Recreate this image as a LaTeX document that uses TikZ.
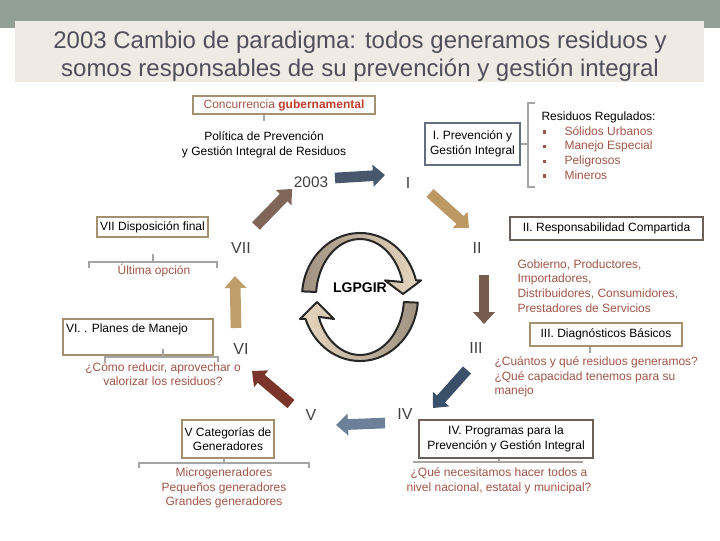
\documentclass[tikz,border=0pt]{standalone}
\usepackage{fontspec}
\setmainfont{Liberation Sans}
\usetikzlibrary{arrows.meta}

\definecolor{barra}{RGB}{146,160,150}
\definecolor{crema}{RGB}{239,234,228}
\definecolor{titulo}{RGB}{80,80,92}
\definecolor{rb}{RGB}{160,85,72}
\definecolor{rbb}{RGB}{190,60,45}
\definecolor{cajatan}{RGB}{165,145,112}
\definecolor{cajaosc}{RGB}{108,96,90}
\definecolor{cajagris}{RGB}{100,110,122}
\definecolor{llavegris}{RGB}{165,165,165}
\definecolor{ringdark}{RGB}{158,145,128}
\definecolor{ringlight}{RGB}{232,216,192}
\definecolor{fl1}{RGB}{128,102,88}
\definecolor{fl2}{RGB}{72,88,108}
\definecolor{fl3}{RGB}{188,152,98}
\definecolor{fl4}{RGB}{118,92,78}
\definecolor{fl5}{RGB}{58,80,106}
\definecolor{fl6}{RGB}{108,128,154}
\definecolor{fl7}{RGB}{122,52,42}
\definecolor{fl8}{RGB}{192,158,108}

\newcommand\txt{\fontsize{9}{11}\selectfont}
\newcommand\blt{{\color{rb}\rule[0.25ex]{2.4pt}{2.4pt}}}

\tikzset{every picture/.style={line width=0.75pt},
  caja/.style={draw, line width=2.2pt, inner sep=0pt, align=center, font=\txt},
  texto/.style={inner sep=0pt, align=center, font=\txt},
  rojo/.style={texto, text=rb},
  romano/.style={inner sep=0pt, font=\fontsize{12}{12}\selectfont, text=black!75},
  llave/.style={draw=llavegris, line width=0.8pt},
  flecha/.style={line width=8pt, -{Triangle[length=9pt,width=16pt]}},
  anillo/.style={draw=black!85, line width=1.5pt, line join=round}}

\begin{document}
\begin{tikzpicture}[x=0.75pt,y=0.75pt,yscale=-1,xscale=1]
\useasboundingbox (0,0) rectangle (720,540);

%Shape: Rectangle
\fill[barra] (0,0) rectangle (720,28);
%Shape: Rectangle
\fill[crema] (15,21) rectangle (704,82);

% Text Node
\node[inner sep=0pt, align=center, text=titulo, font=\fontsize{18}{21}\selectfont] (tit) at (360,56) {2003 Cambio de paradigma: todos generamos residuos y\\somos responsables de su prevención y gestión integral};

% Boxes
\node[caja, draw=cajatan, minimum width=136.5pt, minimum height=13.5pt] (conc) at (284,105) {{\color{rb}Concurrencia} {\color{rbb}\textbf{gubernamental}}};
\node[caja, draw=cajagris, minimum width=71.25pt, minimum height=31.5pt] (prev) at (472.5,144) {I. Prevención y\\Gestión Integral};
\node[caja, draw=cajaosc, minimum width=144.75pt, minimum height=17.25pt] (resp) at (606.5,228.5) {II. Responsabilidad Compartida};
\node[caja, draw=cajatan, minimum width=114pt, minimum height=17.25pt] (diag) at (606,334.5) {III. Diagnósticos Básicos};
\node[caja, draw=cajaosc, minimum width=130.5pt, minimum height=28.5pt] (prog) at (506,439) {IV. Programas para la\\Prevención y Gestión Integral};
\node[caja, draw=cajatan, minimum width=69pt, minimum height=28.5pt] (cat) at (228,439) {V Categorías de\\Generadores};
\node[caja, draw=cajatan, minimum width=112.5pt, minimum height=27pt] (planes) at (138,337) {};
\node[texto, anchor=north west] (planestxt) at ([shift={(3pt,4.5pt)}]planes.north west) {VI. . Planes de Manejo};
\node[caja, draw=cajatan, minimum width=83.25pt, minimum height=15pt] (disp) at (152.5,227) {VII Disposición final};

% Text Node
\node[texto] (pol) at (264,145) {Política de Prevención\\y Gestión Integral de Residuos};
% Text Node
\node[texto, anchor=west, align=left] (resid) at (541,145.5) {Residuos Regulados:\\
\makebox[17.25pt][l]{\hspace{1pt}\blt}{\color{rb}Sólidos Urbanos}\\
\makebox[17.25pt][l]{\hspace{1pt}\blt}{\color{rb}Manejo Especial}\\
\makebox[17.25pt][l]{\hspace{1pt}\blt}{\color{rb}Peligrosos}\\
\makebox[17.25pt][l]{\hspace{1pt}\blt}{\color{rb}Mineros}};
% Text Node
\node[rojo, anchor=west, align=left] (gob) at (517,286) {Gobierno, Productores,\\Importadores,\\Distribuidores, Consumidores,\\Prestadores de Servicios};
% Text Node
\node[rojo, anchor=west, align=left] (cuan) at (494,377) {¿Cuántos y qué residuos generamos?\\¿Qué capacidad tenemos para su\\manejo};
% Text Node
\node[rojo] (que) at (499,481) {¿Qué necesitamos hacer todos a\\nivel nacional, estatal y municipal?};
% Text Node
\node[rojo] (micro) at (224,488) {Microgeneradores\\Pequeños generadores\\Grandes generadores};
% Text Node
\node[rojo] (como) at (163,374) {¿Cómo reducir, aprovechar o\\valorizar los residuos?};
% Text Node
\node[rojo] (ultima) at (154,271) {Última opción};

% Roman numerals
\node[romano] (anio) at (311,182) {\fontsize{11.5}{12}\selectfont 2003};
\node[romano] (r1) at (408,183) {I};
\node[romano] (r2) at (477,248) {II};
\node[romano] (r3) at (476,348) {III};
\node[romano] (r4) at (405,414) {IV};
\node[romano] (r5) at (311,415) {V};
\node[romano] (r6) at (241,349) {VI};
\node[romano] (r7) at (241,248) {VII};

%Straight Lines (brackets)
\draw[llave] (conc.south -| pol.north) -- ++(0,6);
\draw[llave] (prev.east) -- ++(8,0);
\draw[llave] (535,103) -- (528,103) -- (528,187) -- (535,187);
\draw[llave] ([xshift=-12pt]diag.south) -- ++(0,6);
\draw[llave] (413,462) -- (583,462);
\draw[llave] ([xshift=-5.25pt]prog.south) -- ++(0,4);
\draw[llave] (139,468) -- (139,463) -- (309,463) -- (309,468);
\draw[llave] ([xshift=-3pt]cat.south) -- ++(0,5);
\draw[llave] (105,362) -- (105,357) -- (218,357) -- (218,362);
\draw[llave] (163,357) -- (163,349);
\draw[llave] (89,268) -- (89,262) -- (217,262) -- (217,268);
\draw[llave] (153,262) -- (153,254);

% Cycle arrows
\coordinate (f1a) at (256,226); \coordinate (f1b) at (292,189);
\coordinate (f2a) at (335,178); \coordinate (f2b) at (385,175);
\coordinate (f3a) at (430,193); \coordinate (f3b) at (469,228);
\coordinate (f4a) at (484,275); \coordinate (f4b) at (484,324);
\coordinate (f5a) at (467,370); \coordinate (f5b) at (433,408);
\coordinate (f6a) at (385,423); \coordinate (f6b) at (336,425);
\coordinate (f7a) at (291,404); \coordinate (f7b) at (252,371);
\coordinate (f8a) at (236,328); \coordinate (f8b) at (235,276);
\draw[flecha, fl1] (f1a) -- (f1b);
\draw[flecha, fl2] (f2a) -- (f2b);
\draw[flecha, fl3] (f3a) -- (f3b);
\draw[flecha, fl4] (f4a) -- (f4b);
\draw[flecha, fl5] (f5a) -- (f5b);
\draw[flecha, fl6] (f6a) -- (f6b);
\draw[flecha, fl7] (f7a) -- (f7b);
\draw[flecha, fl8] (f8a) -- (f8b);

%Shape: Circular Arrow (top)
\draw[anillo, left color=ringdark, right color=ringlight] (302.2,291.4) arc[start angle=-175, end angle=-15, x radius=58, y radius=64] -- (421,280.4) -- (403,294) -- (385,280.4) -- (402.5,282) arc[start angle=-15, end angle=-175, x radius=44, y radius=58] -- cycle;
%Shape: Circular Arrow (bottom)
\draw[anillo, left color=ringlight, right color=ringdark] (417.8,302.6) arc[start angle=5, end angle=160, x radius=58, y radius=64] -- (300,319) -- (317,302) -- (334,319) -- (318.7,316.8) arc[start angle=160, end angle=5, x radius=44, y radius=58] -- cycle;
% Text Node
\node[inner sep=0pt, font=\fontsize{10.5}{12}\selectfont\bfseries] (lgp) at (360,288) {LGPGIR};

\end{tikzpicture}
\end{document}
